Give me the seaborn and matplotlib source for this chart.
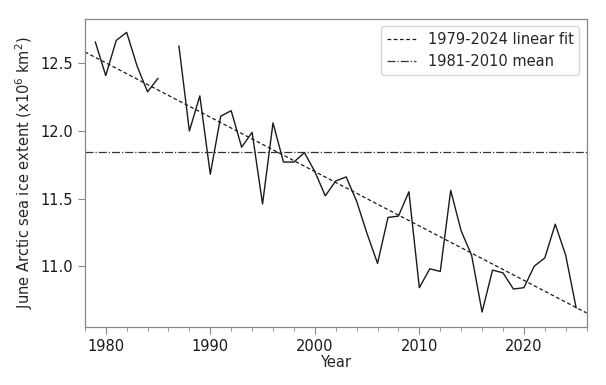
import numpy as np
import pandas as pd
import matplotlib
matplotlib.use("Agg")
import matplotlib.pyplot as plt
from matplotlib.ticker import MultipleLocator
import seaborn as sns

# June Arctic sea ice extent (million km^2), 1986 missing
years = [1979, 1980, 1981, 1982, 1983, 1984, 1985,
         1987, 1988, 1989, 1990, 1991, 1992, 1993, 1994, 1995, 1996, 1997, 1998, 1999,
         2000, 2001, 2002, 2003, 2004, 2005, 2006, 2007, 2008, 2009,
         2010, 2011, 2012, 2013, 2014, 2015, 2016, 2017, 2018, 2019,
         2020, 2021, 2022, 2023, 2024, 2025]
extent = [12.66, 12.41, 12.67, 12.73, 12.48, 12.29, 12.39,
          12.63, 12.00, 12.26, 11.68, 12.11, 12.15, 11.88, 11.99, 11.46, 12.06, 11.77, 11.77, 11.84,
          11.70, 11.52, 11.63, 11.66, 11.48, 11.24, 11.02, 11.36, 11.37, 11.55,
          10.84, 10.98, 10.96, 11.56, 11.26, 11.08, 10.66, 10.97, 10.95, 10.83,
          10.84, 11.00, 11.06, 11.31, 11.08, 10.69]

df = pd.DataFrame({"year": years, "extent": extent})
df["segment"] = np.where(df["year"] < 1986, 0, 1)

# linear fit 1979-2024 and 1981-2010 mean
fit_df = df[(df.year >= 1979) & (df.year <= 2024)]
slope, intercept = np.polyfit(fit_df.year, fit_df.extent, 1)
clim_mean = df[(df.year >= 1981) & (df.year <= 2010)].extent.mean()

sns.set_style("ticks")
plt.rcParams["font.family"] = ["DejaVu Sans"]

fig = plt.figure(figsize=(6.06, 3.85), dpi=100)
ax = fig.add_axes([0.14, 0.151, 0.828, 0.8])

sns.lineplot(data=df, x="year", y="extent", units="segment", estimator=None,
             color="#1a1a1a", linewidth=1.0, ax=ax)

xfit = np.array([1978, 2026])
ax.plot(xfit, slope * xfit + intercept, color="#1a1a1a", linestyle=(0, (3, 2)),
        linewidth=0.9, label="1979-2024 linear fit")
ax.axhline(clim_mean, color="#333333", linestyle="-.", linewidth=0.9,
           label="1981-2010 mean")

ax.set_xlim(1978, 2026)
ax.set_ylim(10.55, 12.83)
ax.xaxis.set_major_locator(MultipleLocator(10))
ax.xaxis.set_minor_locator(MultipleLocator(2))
ax.yaxis.set_major_locator(MultipleLocator(0.5))
ax.yaxis.set_major_formatter(matplotlib.ticker.FormatStrFormatter("%.1f"))

for s in ax.spines.values():
    s.set_color("#888888")
    s.set_linewidth(0.9)
ax.tick_params(axis="both", which="both", colors="#888888", labelcolor="#1a1a1a",
               labelsize=10.5)
ax.tick_params(which="major", length=5)
ax.tick_params(which="minor", length=3)

ax.set_xlabel("Year", fontsize=10.5, labelpad=1)
ax.set_ylabel("June Arctic sea ice extent (x10$^6$ km$^2$)", fontsize=10.5)

ax.legend(loc="upper right", fontsize=10.5, frameon=True, handlelength=2.0)

fig.savefig("out.png", dpi=100)
